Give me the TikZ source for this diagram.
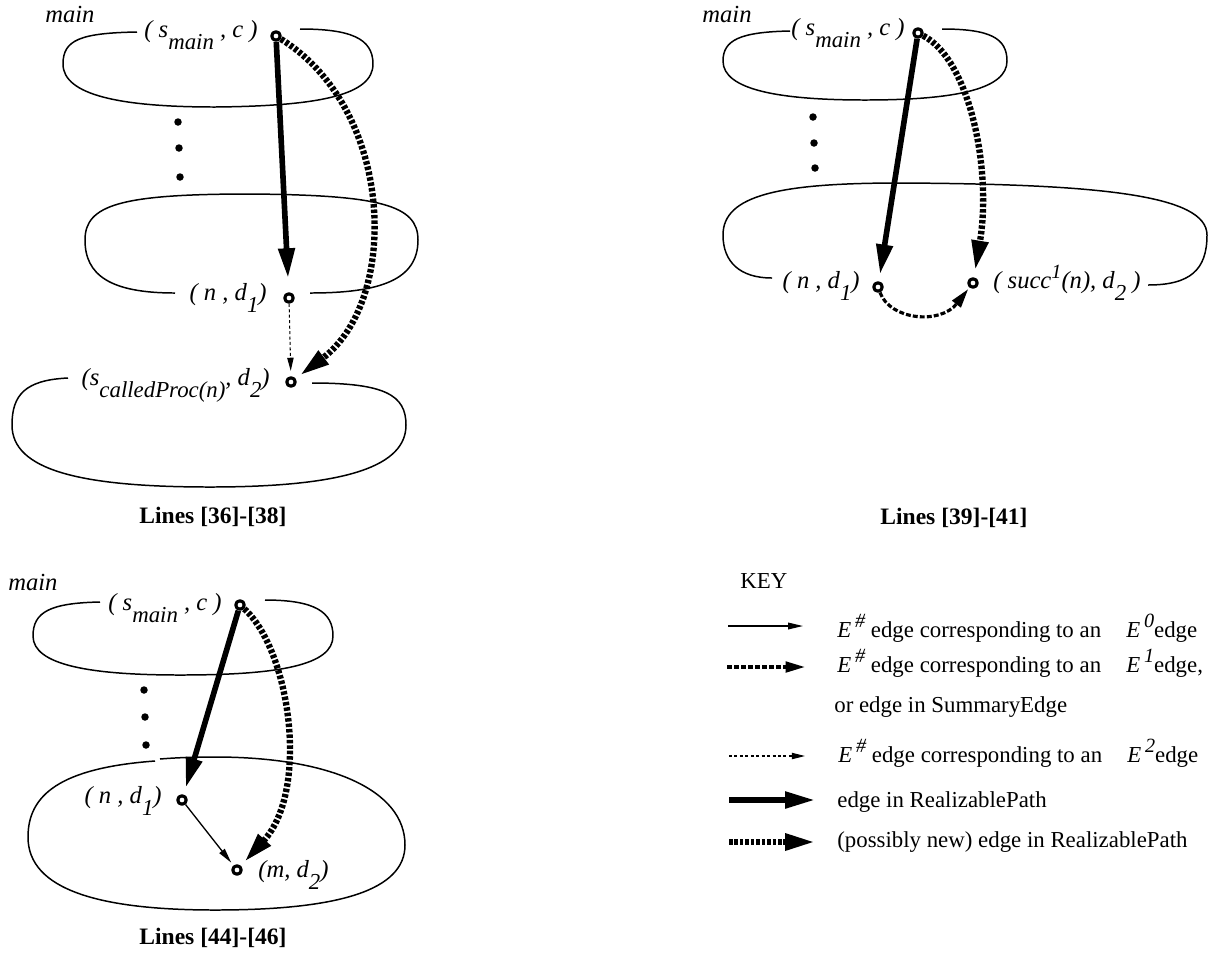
\documentclass[tikz,border=0pt]{standalone}
\usepackage{fontspec}
\setmainfont{Liberation Serif}
\usetikzlibrary{arrows.meta}

\newcommand{\lo}[1]{\raisebox{-7pt}{\fontsize{13}{14}\selectfont #1}}
\newcommand{\hi}[1]{\raisebox{5.5pt}{\fontsize{11.5}{13}\selectfont\itshape #1}}

\tikzset{
  vtx/.style={circle,draw,line width=1.8pt,minimum size=0.17cm,inner sep=0pt},
  dotmark/.style={circle,fill,minimum size=0.15cm,inner sep=0pt},
  blob/.style={line width=0.85pt},
  lbl/.style={font=\fontsize{14}{16}\selectfont\itshape,inner sep=0pt},
  capt/.style={font=\fontsize{13.4}{16}\selectfont\bfseries,inner sep=0pt},
  keytxt/.style={font=\fontsize{13}{15}\selectfont,anchor=base west,inner sep=0pt},
  eZero/.style={-{Triangle[length=8.5pt,width=3.8pt]},line width=0.75pt},
  eOne/.style={-{Triangle[length=11pt,width=6pt]},line width=1.8pt,dash pattern=on 2.8pt off 1.2pt},
  eTwo/.style={-{Triangle[length=7.5pt,width=3.6pt]},line width=0.6pt,dash pattern=on 1.7pt off 1.4pt},
  rpath/.style={-{Triangle[length=17pt,width=9pt]},line width=3.2pt},
  rpnew/.style={-{Triangle[length=17pt,width=9pt]},line width=3.6pt,dash pattern=on 2pt off 1.1pt},
}

\begin{document}
\begin{tikzpicture}[x=0.02cm,y=-0.02cm,line cap=butt,line join=round]
\useasboundingbox (0,0) rectangle (1214,958);

% Lines [36]-[38]
\node[lbl,anchor=base west] (lmain) at (45,22) {main};
\draw[blob] (137,32) .. controls (80,33) and (63,40) .. (63,64)
  .. controls (63,95) and (120,107) .. (215,107)
  .. controls (320,106) and (373,95) .. (373,64)
  .. controls (373,38) and (350,29) .. (300,29);
\draw[blob] (175,293) .. controls (110,293) and (85,275) .. (85,240)
  .. controls (85,205) and (120,194) .. (250,194)
  .. controls (380,195) and (418,205) .. (418,240)
  .. controls (418,280) and (380,293) .. (310,293);
\draw[blob] (68,378) .. controls (25,380) and (12,395) .. (12,425)
  .. controls (12,470) and (80,487) .. (210,487)
  .. controls (350,487) and (406,465) .. (406,425)
  .. controls (406,395) and (385,383) .. (312,383);
\node[dotmark] (ld1) at (178,122) {};
\node[dotmark] (ld2) at (179,148) {};
\node[dotmark] (ld3) at (180,177) {};
\node[vtx] (ls) at (276,36) {};
\node[vtx] (ln) at (289,298) {};
\node[vtx] (lc) at (291,382) {};
\node[lbl,anchor=base east] (lsl) at (258,37) {( s\lo{main} , c )};
\node[lbl,anchor=base east] (lnl) at (267,300) {( n , d\lo{1})};
\node[lbl,anchor=base east] (lcl) at (270,385) {(s\lo{calledProc(n)}, d\lo{2})};
\draw[rpath,shorten >=8pt] (ls) -- (ln);
\draw[eTwo,shorten >=3pt] (ln) -- (lc);
\draw[rpnew,shorten >=3pt] (ls) .. controls (395,110) and (400,300) .. (lc);
\node[capt] (lcap) at (213,517) {Lines [36]-[38]};

% Lines [39]-[41]
\node[lbl,anchor=base west] (rmain) at (702,22) {main};
\draw[blob] (790,31) .. controls (740,32) and (723,40) .. (723,61)
  .. controls (723,90) and (780,100) .. (865,100)
  .. controls (960,100) and (1007,88) .. (1007,61)
  .. controls (1007,38) and (990,29) .. (942,29);
\draw[blob] (772,278) .. controls (740,278) and (723,262) .. (723,235)
  .. controls (723,195) and (780,183) .. (900,183)
  .. controls (1100,184) and (1207,195) .. (1207,235)
  .. controls (1207,270) and (1190,285) .. (1148,285);
\node[dotmark] (rd1) at (813,117) {};
\node[dotmark] (rd2) at (814,143) {};
\node[dotmark] (rd3) at (815,168) {};
\node[vtx] (rs) at (918,33) {};
\node[vtx] (rn) at (878,287) {};
\node[vtx] (rc) at (973,283) {};
\node[lbl,anchor=base east] (rsl) at (905,35) {( s\lo{main} , c )};
\node[lbl,anchor=base east] (rnl) at (860,288) {( n , d\lo{1})};
\node[lbl,anchor=base west] (rcl) at (993,288) {( succ\hi{1}(n), d\lo{2} )};
\draw[rpath,shorten >=4pt] (rs) -- (rn);
\draw[rpnew,shorten >=4pt] (rs) .. controls (970,60) and (992,170) .. (rc);
\draw[eOne,shorten >=1pt] (rn) .. controls (890,320) and (940,325) .. (rc);
\node[capt] (rcap) at (954,518) {Lines [39]-[41]};

% Lines [44]-[46]
\node[lbl,anchor=base west] (bmain) at (8,590) {main};
\draw[blob] (100,602) .. controls (50,603) and (33,612) .. (33,636)
  .. controls (33,665) and (90,675) .. (180,675)
  .. controls (280,675) and (333,665) .. (333,636)
  .. controls (333,612) and (315,600) .. (265,600);
\draw[blob] (155,761) .. controls (60,768) and (28,795) .. (28,837)
  .. controls (28,890) and (100,910) .. (215,910)
  .. controls (340,910) and (405,890) .. (405,845)
  .. controls (405,790) and (330,757) .. (215,757)
  .. controls (190,757) and (172,758) .. (160,759);
\node[dotmark] (bd1) at (144,690) {};
\node[dotmark] (bd2) at (145,717) {};
\node[dotmark] (bd3) at (146,745) {};
\node[vtx] (bs) at (240,605) {};
\node[vtx] (bn) at (182,800) {};
\node[vtx] (bm) at (237,870) {};
\node[lbl,anchor=base east] (bsl) at (222,610) {( s\lo{main} , c )};
\node[lbl,anchor=base east] (bnl) at (162,803) {( n , d\lo{1})};
\node[lbl,anchor=base west] (bml) at (258,877) {(m, d\lo{2})};
\draw[rpath,shorten >=4pt] (bs) -- (bn);
\draw[eZero,shorten >=2pt] (bn) -- (bm);
\draw[rpnew,shorten >=3pt] (bs) .. controls (290,650) and (310,790) .. (bm);
\node[capt] (bcap) at (213,938) {Lines [44]-[46]};

% KEY
\node[keytxt] (key) at (740,588) {KEY};
\coordinate (k0a) at (728,626); \coordinate (k0b) at (803,626);
\coordinate (k1a) at (727,667); \coordinate (k1b) at (805,667);
\coordinate (k2a) at (729,756); \coordinate (k2b) at (805,756);
\coordinate (k3a) at (729,800); \coordinate (k3b) at (815,800);
\coordinate (k4a) at (729,842); \coordinate (k4b) at (815,842);
\draw[eZero] (k0a) -- (k0b);
\draw[eOne] (k1a) -- (k1b);
\draw[eTwo] (k2a) -- (k2b);
\draw[rpath] (k3a) -- (k3b);
\draw[rpnew] (k4a) -- (k4b);
\node[keytxt] (t0) at (837,637) {\textit{E}\,\hi{\#} edge corresponding to an\hspace{1.1em}\textit{E}\,\hi{0}edge};
\node[keytxt] (t1) at (837,672) {\textit{E}\,\hi{\#} edge corresponding to an\hspace{1.1em}\textit{E}\,\hi{1}edge,};
\node[keytxt] (t1b) at (834,712) {or edge in SummaryEdge};
\node[keytxt] (t2) at (838,762) {\textit{E}\,\hi{\#} edge corresponding to an\hspace{1.1em}\textit{E}\,\hi{2}edge};
\node[keytxt] (t3) at (837,807) {edge in RealizablePath};
\node[keytxt] (t4) at (837,847) {(possibly new) edge in RealizablePath};
\end{tikzpicture}
\end{document}
